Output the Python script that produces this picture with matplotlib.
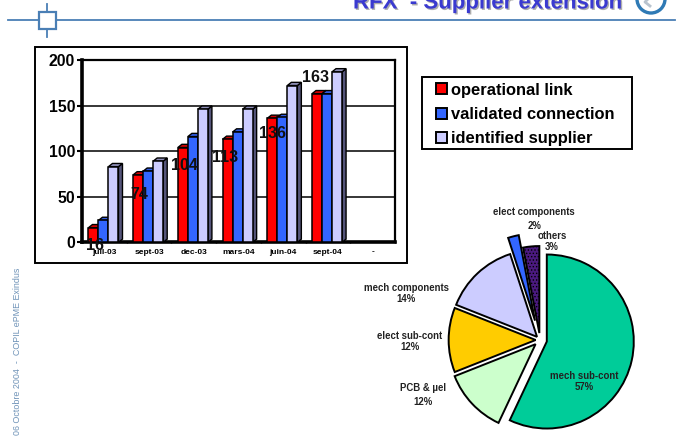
import matplotlib
matplotlib.use("Agg")
import matplotlib.pyplot as plt
from matplotlib.patches import Polygon, Rectangle, Circle
from matplotlib.lines import Line2D
from matplotlib.legend_handler import HandlerPatch
import matplotlib.patheffects as pe

plt.rcParams['font.family'] = ['Liberation Sans', 'DejaVu Sans']
plt.rcParams['hatch.linewidth'] = 0.6

periods = ['juil-03', 'sept-03', 'dec-03', 'mars-04', 'juin-04', 'sept-04', '-']
operational = [16, 74, 104, 113, 136, 163]
validated = [24, 78, 116, 121, 137, 163]
identified = [83, 89, 146, 146, 172, 187]
series_names = ['operational link', 'validated connection', 'identified supplier']
yticks = [0, 50, 100, 150, 200]

pie_names = ['mech sub-cont', 'PCB & µel', 'elect sub-cont', 'mech components', 'elect components', 'others']
pie_values = [57, 12, 12, 14, 2, 3]
pie_labels = ['57%', '12%', '12%', '14%', '2%', '3%']

W, H = 680, 441
fig = plt.figure(figsize=(W / 100, H / 100), dpi=100, facecolor='white')


def px_axes(x0, y0, x1, y1, **kw):
    return fig.add_axes([x0 / W, 1 - y1 / H, (x1 - x0) / W, (y1 - y0) / H], **kw)


# overlay for page furniture, pixel coordinates
bg = px_axes(0, 0, W, H)
bg.set_xlim(0, W)
bg.set_ylim(H, 0)
bg.axis('off')
blue_line = '#4a7fb5'
bg.add_line(Line2D([8, 675], [20, 20], color=blue_line, lw=1.3))
bg.add_line(Line2D([47, 47], [4, 37], color=blue_line, lw=1.3))
bg.add_patch(Rectangle((39, 12), 17, 17, fc='white', ec=blue_line, lw=1.6, zorder=3))
bg.add_patch(Circle((651, -1), 14, fc='white', ec='#2f7ab5', lw=2.4, clip_on=True))
bg.add_line(Line2D([650, 645, 650], [-3, 2, 6], color='#b9c4cf', lw=2))
bg.add_patch(Rectangle((35, 46.5), 372, 216, fc='white', ec='black', lw=1.4))
bg.add_patch(Rectangle((422, 77), 210, 72, fc='white', ec='black', lw=1.4))
bg.text(353, 8.5, 'RFX  - Supplier extension', color='#3a3ad0', fontsize=16, fontweight='bold',
        va='baseline', ha='left',
        path_effects=[pe.withSimplePatchShadow(offset=(1, -1), shadow_rgbFace='#999999', alpha=0.8)])
bg.text(18, 435, '06 Octobre 2004  -  COPIL ePME Exindus', rotation=90, color='#6f93b8',
        fontsize=6.4, va='bottom', ha='center')

# bar chart
ax = px_axes(82, 60, 395, 242.3)
ax.set_xlim(-0.5, 6.5)
ax.set_ylim(0, 200)
ax.set_axisbelow(True)
ax.yaxis.grid(True, color='black', lw=1.1)
ax.set_yticks(yticks)
ax.set_yticklabels([str(v) for v in yticks], fontsize=11.3, fontweight='bold')
ax.tick_params(axis='y', length=3.5, width=1.5, pad=1.5)
ax.set_xticks(range(len(periods)))
ax.set_xticklabels(periods, fontsize=6, fontweight='bold')
ax.set_xticks([i - 0.5 for i in range(len(periods) + 1)], minor=True)
ax.tick_params(axis='x', which='major', length=0, pad=4.5)
ax.tick_params(axis='x', which='minor', length=2, width=1, direction='inout')
for side, lw in (('left', 2.6), ('bottom', 2.6), ('top', 1.6), ('right', 1.6)):
    ax.spines[side].set_linewidth(lw)

bar_w = 0.224
depth_x = 4 / 44.7
depth_y = 3.5
series = [(operational, '#ff0000', '#8f0000', '#d00000', -1),
          (validated, '#3366ff', '#1f3f9f', '#2f5ae0', 0),
          (identified, '#ccccff', '#55557a', '#8f8fb8', 1)]
for i in range(len(operational)):
    for vals, front, side, top, k in series:
        x0 = i - 0.02 + k * bar_w - bar_w / 2
        x1 = x0 + bar_w
        v = vals[i]
        ax.add_patch(Polygon([(x1, 0), (x1 + depth_x, depth_y), (x1 + depth_x, v + depth_y), (x1, v)],
                             fc=side, ec='black', lw=1.0, zorder=3, clip_on=False))
        ax.add_patch(Polygon([(x0, v), (x0 + depth_x, v + depth_y), (x1 + depth_x, v + depth_y), (x1, v)],
                             fc=top, ec='black', lw=1.0, zorder=3, clip_on=False))
        ax.bar(x0, v, width=bar_w, align='edge', color=front, edgecolor='black', lw=1.1, zorder=3)

label_dx = [-7, -7, -7, -10, -8, -9]
label_dy = [-13, -14, -13, -13, -11, 11.5]
for i, v in enumerate(operational):
    ax.annotate(str(v), (i, v), xytext=(label_dx[i], label_dy[i]), textcoords='offset points',
                ha='center', va='center', fontsize=11.5, fontweight='bold', color='#111111',
                zorder=5, clip_on=False)


def square_handle(legend, orig_handle, xdescent, ydescent, width, height, fontsize):
    side = 8.0
    return Rectangle((width - side - xdescent, (height - side) / 2 - ydescent), side, side)


handles = [Rectangle((0, 0), 1, 1, fc=c, ec='black', lw=1.4) for c in ('#ff0000', '#3366ff', '#ccccff')]
leg = fig.legend(handles, series_names, loc='upper left',
                 bbox_to_anchor=(426 / W, 1 - 82.5 / H), prop={'size': 11.9, 'weight': 'bold'},
                 frameon=False, handlelength=1.3, handleheight=0.75, handletextpad=0.22,
                 labelspacing=0.57, borderpad=0, borderaxespad=0,
                 handler_map={Rectangle: HandlerPatch(patch_func=square_handle)})
leg.set_zorder(10)

# pie chart
R = 87
cx, cy = 540, 340
pie_ax = px_axes(cx - 110, cy - 110, cx + 110, cy + 110)
wedges, _ = pie_ax.pie(pie_values, startangle=90, counterclock=False, radius=1,
                       colors=['#00cc99', '#ccffcc', '#ffcc00', '#ccccff', '#3366ff', '#4b1a80'],
                       explode=[0.08, 0.07, 0.05, 0.05, 0.23, 0.08],
                       wedgeprops={'edgecolor': 'black', 'linewidth': 1.4})
wedges[5].set_hatch('.....')
pie_ax.set_xlim(-110 / R, 110 / R)
pie_ax.set_ylim(-110 / R, 110 / R)
pie_ax.patch.set_alpha(0)

pie_name_xy = [(584, 376), (423, 388), (410, 336), (406, 288), (534, 212), (552, 236)]
pie_pct_xy = [(584, 387), (423, 402), (410, 347), (406, 299), (535, 226), (552, 247)]
for name, pct, (nx, ny), (px, py) in zip(pie_names, pie_labels, pie_name_xy, pie_pct_xy):
    kw = dict(ha='center', va='center', fontsize=6.9, fontweight='bold', color='#222222', zorder=20)
    fig.text(nx / W, 1 - ny / H, name, **kw)
    fig.text(px / W, 1 - py / H, pct, **kw)

fig.savefig('out.png', dpi=100)
